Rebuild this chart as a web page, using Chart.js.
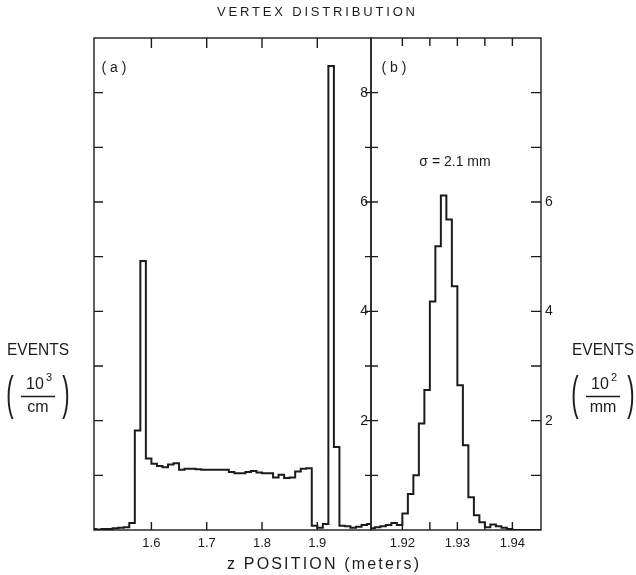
<!DOCTYPE html>
<html>
<head>
<meta charset="utf-8">
<title>Vertex distribution</title>
<script src="https://cdn.jsdelivr.net/npm/chart.js@4.4.1/dist/chart.umd.min.js"></script>
<style>
  html, body { margin: 0; padding: 0; background: #fff; }
  #wrap { position: relative; width: 636px; height: 575px; }
  #wrap canvas { position: absolute; left: 0; top: 0; }
</style>
</head>
<body>
<div id="wrap">
  <canvas id="panel_a" width="636" height="575"></canvas>
  <canvas id="panel_b" width="636" height="575"></canvas>
</div>
<script>
// (a) whole target region: bin low edges (m) and events in 10^3 / cm
const z_a = [1.4962, 1.50, 1.51, 1.52, 1.53, 1.54, 1.55, 1.56, 1.57, 1.58, 1.59,
  1.60, 1.61, 1.62, 1.63, 1.64, 1.65, 1.66, 1.67, 1.68, 1.69,
  1.70, 1.71, 1.72, 1.73, 1.74, 1.75, 1.76, 1.77, 1.78, 1.79,
  1.80, 1.81, 1.82, 1.83, 1.84, 1.85, 1.86, 1.87, 1.88, 1.89,
  1.90, 1.91, 1.92, 1.93, 1.94, 1.95, 1.96, 1.97, 1.98, 1.99, 2.00];
const n_a = [0.02, 0.01, 0.02, 0.02, 0.03, 0.04, 0.05, 0.13, 1.82, 4.92, 1.31,
  1.21, 1.17, 1.15, 1.20, 1.22, 1.10, 1.12, 1.12, 1.11, 1.10,
  1.10, 1.10, 1.10, 1.10, 1.06, 1.04, 1.04, 1.06, 1.08, 1.05,
  1.04, 1.04, 0.96, 1.01, 0.95, 0.96, 1.07, 1.12, 1.13, 0.08,
  0.04, 0.11, 8.49, 1.52, 0.08, 0.07, 0.04, 0.06, 0.09, 0.11];

// (b) the thin window around 1.927 m: bin low edges (m) and events in 10^2 / mm
const z_b = [1.9143, 1.915, 1.916, 1.917, 1.918, 1.919, 1.920, 1.921, 1.922, 1.923,
  1.924, 1.925, 1.926, 1.927, 1.928, 1.929, 1.930, 1.931, 1.932, 1.933,
  1.934, 1.935, 1.936, 1.937, 1.938, 1.939, 1.940, 1.9452];
const n_b = [0.03, 0.05, 0.07, 0.09, 0.13, 0.09, 0.30, 0.66, 1.00, 1.95,
  2.56, 4.18, 5.19, 6.12, 5.68, 4.46, 2.65, 1.55, 0.60, 0.27,
  0.14, 0.05, 0.10, 0.07, 0.04, 0.02, 0.00];

const xLabels_a = [1.6, 1.7, 1.8, 1.9];
const xLabels_b = [1.92, 1.93, 1.94];
const xMarks_b = [1.92, 1.925, 1.93, 1.935, 1.94];
const yMarks = [1, 2, 3, 4, 5, 6, 7, 8];
const yLabels_a = [2, 4, 6, 8];
const yLabels_b = [2, 4, 6];

const ink = '#1c1c1c';
const face = '"Liberation Sans", "DejaVu Sans", sans-serif';

// step outline: each value holds from its edge up to the next edge
function outline(edges, counts) {
  return edges.map((z, i) => ({ x: z, y: counts[Math.min(i, counts.length - 1)] }));
}

// box around the panel and the inward tick marks
const frame = {
  id: 'frame',
  afterDatasetsDraw(chart, args, o) {
    const { ctx, chartArea: a, scales: { x, y } } = chart;
    ctx.save();
    ctx.strokeStyle = ink;
    ctx.lineWidth = 1.4;
    ctx.strokeRect(a.left, a.top, a.right - a.left, a.bottom - a.top);
    ctx.beginPath();
    for (const v of o.xMarks) {
      const px = x.getPixelForValue(v);
      ctx.moveTo(px, a.top); ctx.lineTo(px, a.top + o.topLen);
      ctx.moveTo(px, a.bottom); ctx.lineTo(px, a.bottom - o.bottomLen);
    }
    for (const v of yMarks) {
      const py = y.getPixelForValue(v);
      if (o.leftIn) { ctx.moveTo(a.left, py); ctx.lineTo(a.left + o.leftIn, py); }
      if (o.rightIn) { ctx.moveTo(a.right, py); ctx.lineTo(a.right - o.rightIn, py); }
    }
    ctx.stroke();
    ctx.restore();
  }
};

// centred text; when a width is given the letters are spread (or squeezed) to fill it
function text(ctx, s, x, y, size, width) {
  ctx.font = size + 'px ' + face;
  ctx.textBaseline = 'middle';
  ctx.letterSpacing = '0px';
  const w = ctx.measureText(s).width;
  if (width && w < width) {
    const gap = (width - w) / (s.length - 1);
    ctx.letterSpacing = gap + 'px';
    ctx.textAlign = 'left';
    ctx.fillText(s, x - width / 2, y);
    ctx.letterSpacing = '0px';
  } else {
    ctx.textAlign = 'center';
    if (width) ctx.fillText(s, x, y, width); else ctx.fillText(s, x, y);
  }
}

// "EVENTS" over a bracketed unit fraction
function units(ctx, cx, power, unit) {
  text(ctx, 'EVENTS', cx, 350, 17, 62);
  ctx.save();
  ctx.font = '22px ' + face;
  ctx.textAlign = 'center';
  ctx.textBaseline = 'middle';
  ctx.translate(0, 396);
  ctx.scale(1, 2.1);
  ctx.fillText('(', cx - 28, 0);
  ctx.fillText(')', cx + 28, 0);
  ctx.restore();
  text(ctx, '10', cx - 3, 385, 16);
  text(ctx, power, cx + 11, 378, 11);
  ctx.save();
  ctx.strokeStyle = ink;
  ctx.lineWidth = 1.3;
  ctx.beginPath();
  ctx.moveTo(cx - 17, 396.5); ctx.lineTo(cx + 17, 396.5);
  ctx.stroke();
  ctx.restore();
  text(ctx, unit, cx, 408, 16);
}

const notes = {
  id: 'notes',
  afterDraw(chart, args, o) {
    const ctx = chart.ctx;
    ctx.save();
    ctx.fillStyle = ink;
    for (const n of o.items) text(ctx, n[0], n[1], n[2], n[3], n[4]);
    if (o.units) units(ctx, o.units[0], o.units[1], o.units[2]);
    ctx.restore();
  }
};

function panel(id, edges, counts, pad, xr, xLabels, yLabels, digits, mirror, extra) {
  return new Chart(document.getElementById(id), {
    type: 'line',
    data: {
      datasets: [{
        data: outline(edges, counts),
        stepped: 'before',
        borderColor: ink,
        borderWidth: 2,
        pointRadius: 0,
        fill: false
      }]
    },
    options: {
      responsive: false,
      animation: false,
      events: [],
      layout: { padding: pad },
      plugins: Object.assign({
        legend: { display: false },
        tooltip: { enabled: false }
      }, extra),
      scales: {
        x: {
          type: 'linear',
          min: xr[0],
          max: xr[1],
          afterFit: s => { s.height = 30; },
          afterBuildTicks: s => { s.ticks = xLabels.map(v => ({ value: v })); },
          grid: { display: false, drawTicks: false },
          border: { display: false },
          ticks: {
            color: ink,
            padding: 6,
            maxRotation: 0,
            autoSkip: false,
            font: { family: face, size: 13 },
            callback: v => v.toFixed(digits)
          }
        },
        y: {
          position: 'right',
          min: 0,
          max: 9,
          afterFit: s => { s.width = mirror ? 0 : 30; },
          afterBuildTicks: s => { s.ticks = yLabels.map(v => ({ value: v })); },
          grid: { display: false, drawTicks: false },
          border: { display: false },
          ticks: {
            mirror: mirror,
            color: ink,
            padding: mirror ? -3 : 4,
            font: { family: face, size: 14 }
          }
        }
      }
    },
    plugins: [frame, notes]
  });
}

panel('panel_a', z_a, n_a, { left: 94, right: 265, top: 38, bottom: 15 },
  [1.4962, 1.9971], xLabels_a, yLabels_a, 1, true, {
    frame: { xMarks: xLabels_a, topLen: 10, bottomLen: 8, leftIn: 9, rightIn: 6 },
    notes: {
      items: [
        ['VERTEX DISTRIBUTION', 316, 12, 13, 198],
        ['z POSITION (meters)', 323, 565, 16, 192],
        ['( a )', 114, 68, 14]
      ],
      units: [38, '3', 'cm']
    }
  });

panel('panel_b', z_b, n_b, { left: 371, right: 65, top: 38, bottom: 15 },
  [1.9143, 1.9452], xLabels_b, yLabels_b, 2, false, {
    frame: { xMarks: xMarks_b, topLen: 8, bottomLen: 8, leftIn: 7, rightIn: 10 },
    notes: {
      items: [
        ['( b )', 394, 68, 14],
        ['\u03c3 = 2.1 mm', 455, 162, 14]
      ],
      units: [603, '2', 'mm']
    }
  });
</script>
</body>
</html>
